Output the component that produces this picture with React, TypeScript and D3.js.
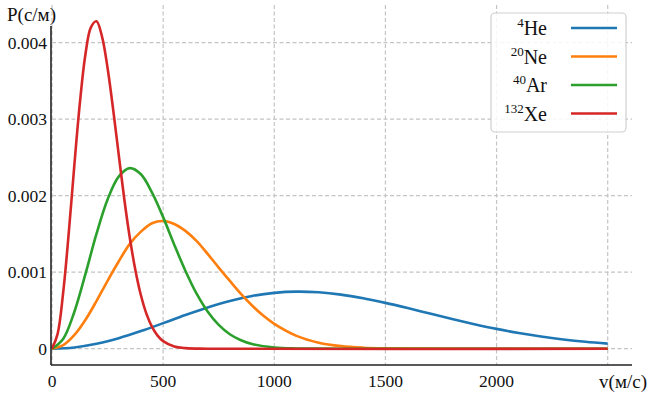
import React from 'react';
import * as d3 from 'd3';

// speeds (m/s) and probability density P (s/m)
const heV = [0, 100, 200, 300, 400, 500, 600, 700, 800, 900, 1000, 1100, 1200, 1300, 1400, 1500, 1600, 1700, 1800, 1900, 2000, 2100, 2200, 2300, 2400, 2500];
const heP = [0, 0.0000162, 0.0000634, 0.000137, 0.00023, 0.000334, 0.000441, 0.00054, 0.000625, 0.00069, 0.00073, 0.000746, 0.000737, 0.000707, 0.000659, 0.000599, 0.000531, 0.000459, 0.000388, 0.000321, 0.000259, 0.000205, 0.000159, 0.000121, 0.00009, 0.0000659];

const neV = [0, 50, 100, 150, 200, 250, 300, 350, 400, 450, 500, 550, 600, 650, 700, 750, 800, 850, 900, 950, 1000, 1100, 1200, 1300, 1400, 1500, 1700, 2000, 2500];
const neP = [0, 0.0000452, 0.000176, 0.000375, 0.000622, 0.000888, 0.00114, 0.00137, 0.00153, 0.00164, 0.00167, 0.00163, 0.00154, 0.00141, 0.00124, 0.00106, 0.000886, 0.000717, 0.000565, 0.000433, 0.000324, 0.000168, 0.0000791, 0.0000339, 0.0000133, 0.0000047, 0.0000005, 0, 0];

const arV = [0, 50, 100, 150, 200, 250, 300, 350, 400, 450, 500, 550, 600, 650, 700, 750, 800, 850, 900, 1000, 1100, 1300, 2500];
const arP = [0, 0.000127, 0.000477, 0.000971, 0.0015, 0.00195, 0.00225, 0.00236, 0.00228, 0.00204, 0.00172, 0.00136, 0.00102, 0.000722, 0.000486, 0.000311, 0.000189, 0.00011, 0.0000607, 0.0000162, 0.0000036, 0, 0];

const xeV = [0, 25, 50, 75, 100, 125, 150, 175, 200, 225, 250, 275, 300, 325, 350, 375, 400, 425, 450, 475, 500, 550, 600, 700, 2500];
const xeP = [0, 0.000191, 0.000726, 0.0015, 0.00238, 0.0032, 0.00384, 0.0042, 0.00428, 0.00408, 0.00367, 0.00313, 0.00254, 0.00196, 0.00145, 0.00103, 0.000699, 0.000455, 0.000285, 0.000171, 0.0000991, 0.0000296, 0.0000076, 0, 0];

const xTicks = [0, 500, 1000, 1500, 2000, 2500];
const xTickLabels = ['0', '500', '1000', '1500', '2000', ''];
const yTicks = [0, 0.001, 0.002, 0.003, 0.004];
const yTickLabels = ['0', '0.001', '0.002', '0.003', '0.004'];

const seriesNames = [
  { mass: '4', el: 'He' },
  { mass: '20', el: 'Ne' },
  { mass: '40', el: 'Ar' },
  { mass: '132', el: 'Xe' },
];
const seriesColors = ['#1f77b4', '#ff7f0e', '#2ca02c', '#d62728'];
const seriesData = [
  [heV, heP],
  [neV, neP],
  [arV, arP],
  [xeV, xeP],
];

const W = 648;
const H = 393;
const font = "'Liberation Serif', 'Times New Roman', 'DejaVu Serif', serif";

export default function App() {
  const x = d3.scaleLinear().domain([0, 2500]).range([52, 607.7]);
  const y = d3.scaleLinear().domain([0, 0.004]).range([348.7, 42.7]);

  const line = d3
    .line<[number, number]>()
    .x((d) => x(d[0]))
    .y((d) => Math.min(y(d[1]), y(0)))
    .curve(d3.curveCatmullRom.alpha(0.5));

  const gridColor = '#c4c4c4';
  const plotTop = 5;
  const plotRight = 632;
  const spineY = 365;
  const spineX = 51;

  // legend
  const lgX = 491;
  const lgY = 13;
  const lgW = 135;
  const lgH = 119;
  const rowY = [28, 56.5, 85, 113.5];

  return (
    <svg
      width={W}
      height={H}
      style={{ position: 'absolute', left: 0, top: 0, background: '#fff', fontFamily: font }}
    >
      <rect x={0} y={0} width={W} height={H} fill="#fff" />

      {/* grid */}
      <g stroke={gridColor} strokeWidth={1.2} strokeDasharray="4,2.5">
        {xTicks.map((t) => (
          <line key={'gx' + t} x1={x(t)} x2={x(t)} y1={plotTop} y2={spineY} />
        ))}
        {yTicks.map((t) => (
          <line key={'gy' + t} x1={x(0)} x2={plotRight} y1={y(t)} y2={y(t)} />
        ))}
      </g>

      {/* curves */}
      {seriesData.map(([vs, ps], i) => (
        <path
          key={i}
          d={line(vs.map((v, j) => [v, ps[j]] as [number, number])) || ''}
          fill="none"
          stroke={seriesColors[i]}
          strokeWidth={2.6}
          strokeLinejoin="round"
        />
      ))}

      {/* spines */}
      <line x1={spineX} x2={spineX} y1={26} y2={spineY} stroke="#222" strokeWidth={1.6} />
      <line x1={spineX} x2={plotRight} y1={spineY} y2={spineY} stroke="#222" strokeWidth={1.6} />

      {/* tick labels */}
      <g fontSize={17.5} fill="#111" style={{ fontFamily: font }}>
        {xTicks.map((t, i) => (
          <text key={'tx' + t} x={x(t)} y={387} textAnchor="middle">
            {xTickLabels[i]}
          </text>
        ))}
        {yTicks.map((t, i) => (
          <text key={'ty' + t} x={47} y={y(t) + 6} textAnchor="end">
            {yTickLabels[i]}
          </text>
        ))}
        <text x={7} y={21} fontSize={19}>P(с/м)</text>
        <text x={647} y={388} fontSize={19} textAnchor="end">v(м/с)</text>
      </g>

      {/* legend */}
      <rect
        x={lgX}
        y={lgY}
        width={lgW}
        height={lgH}
        rx={4}
        fill="#fff"
        fillOpacity={0.85}
        stroke="#cfcfcf"
        strokeWidth={1.2}
      />
      {seriesNames.map((s, i) => (
        <g key={s.el} style={{ fontFamily: font }}>
          <text x={547} y={rowY[i] + 7} textAnchor="end" fontSize={20} fill="#111">
            <tspan fontSize={13} dy={-8}>
              {s.mass}
            </tspan>
            <tspan dy={8}>{s.el}</tspan>
          </text>
          <line
            x1={571}
            x2={617}
            y1={rowY[i]}
            y2={rowY[i]}
            stroke={seriesColors[i]}
            strokeWidth={2.6}
          />
        </g>
      ))}
    </svg>
  );
}
